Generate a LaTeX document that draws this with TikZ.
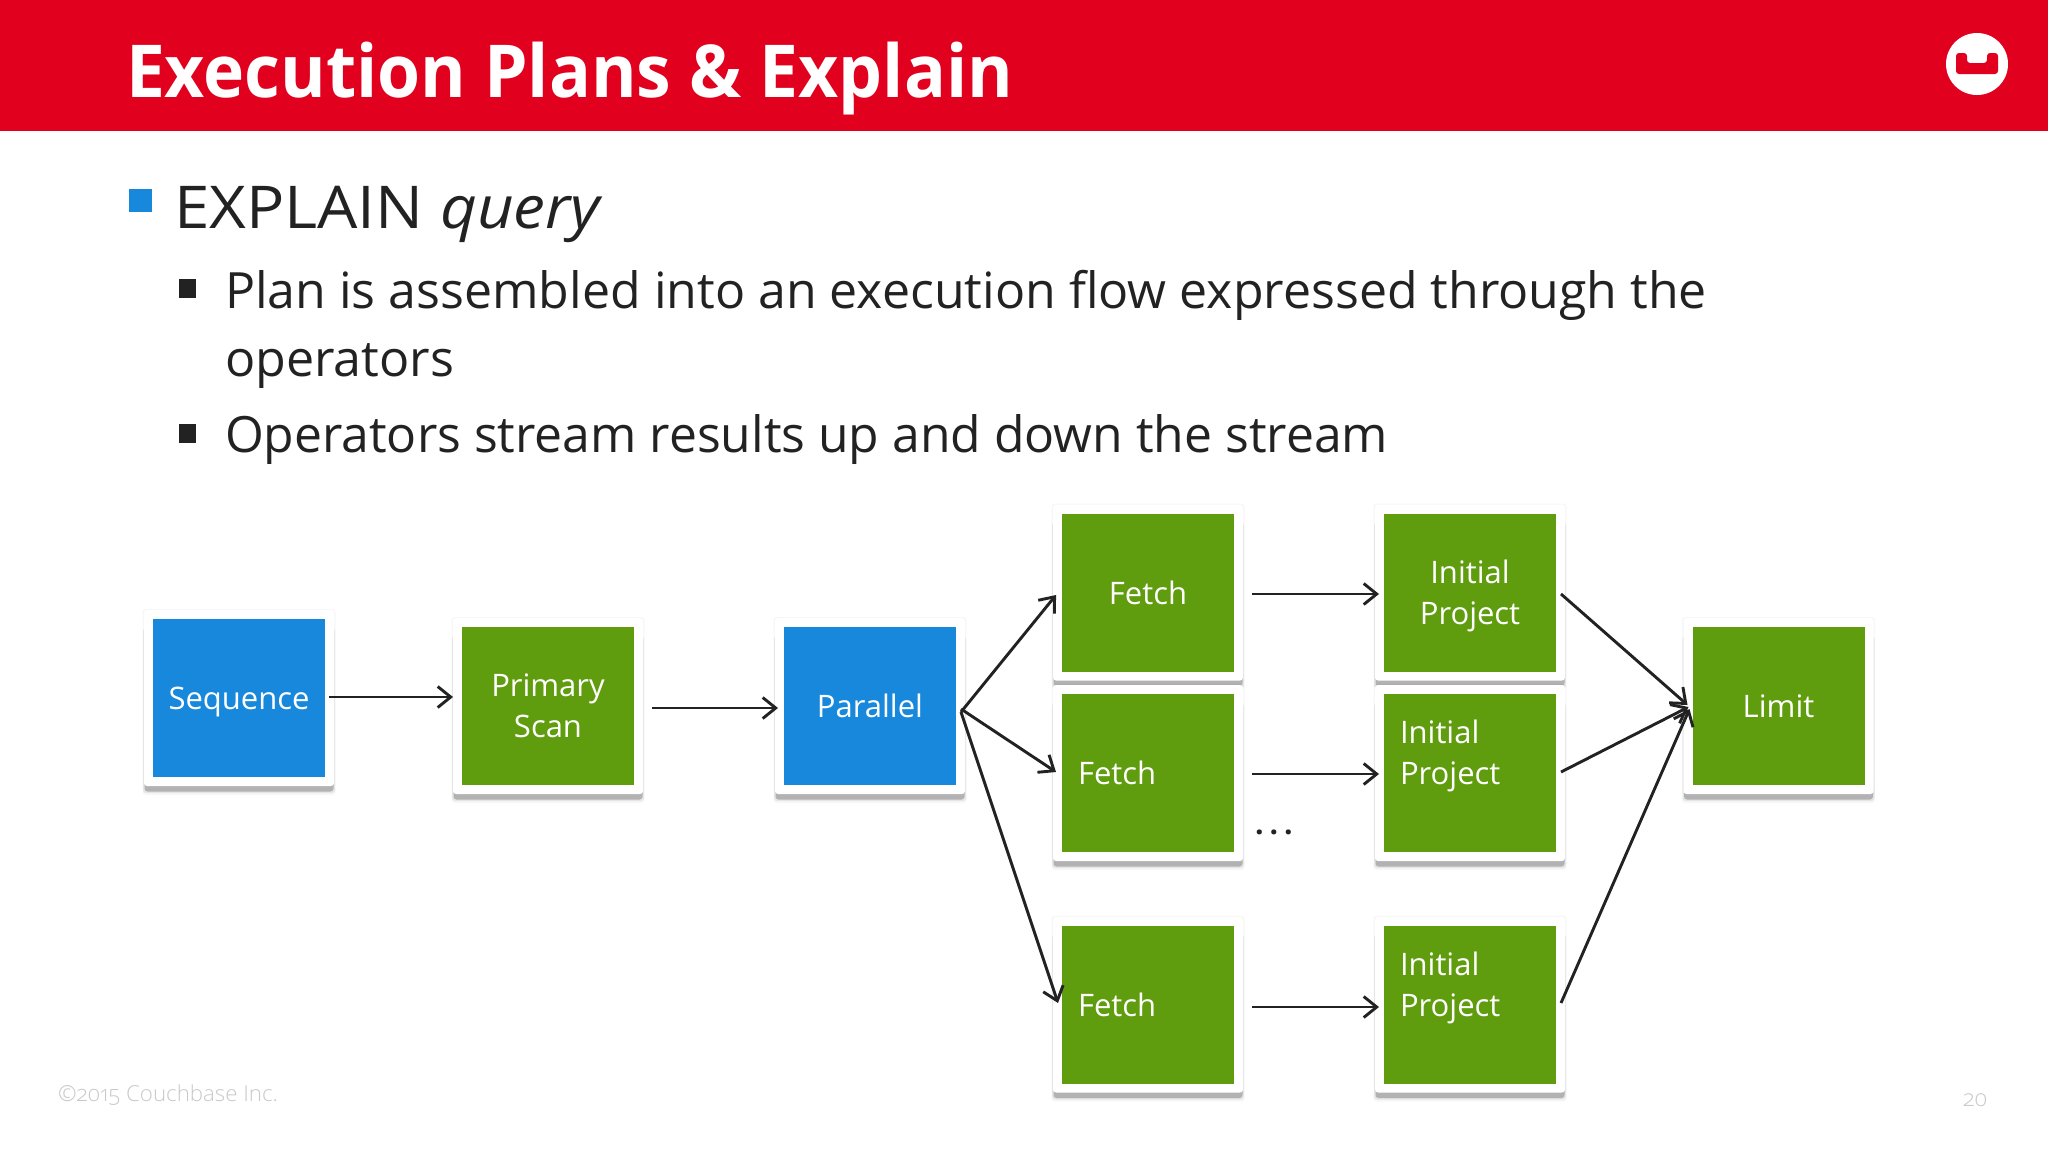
\documentclass[tikz,border=0pt]{standalone}
\usepackage{fontspec}
\usepackage{graphicx}
\usetikzlibrary{arrows.meta}
\setmainfont{Open Sans}
\newfontfamily\boxfont{Open Sans}
\newfontfamily\oldfont[Numbers=OldStyle]{Open Sans Light}
\definecolor{cbred}{HTML}{E2001F}
\definecolor{cbgreen}{HTML}{5F9C0E}
\definecolor{cbblue}{HTML}{1888DC}
\definecolor{cbink}{HTML}{222222}
\definecolor{cbfoot}{HTML}{C9C9CD}
\tikzset{
  x=1pt,y=-1pt,
  lineTxt/.style={anchor=base west,inner sep=0,outer sep=0,text=cbink},
  arr/.style={draw=cbink,line width=2.9pt,-{Straight Barb[length=13pt,width=21pt,line width=2.9pt]}},
  cardbox/.style={minimum width=172pt,minimum height=158pt,inner sep=0,outer sep=0,text=white,
     font=\boxfont\fontsize{31}{41}\selectfont},
  mid/.style={align=center},
  lefty/.style={text width=140pt,align=left},
  softshade/.style={fill=black,fill opacity=#1,rounded corners=3pt},
}
% \card{name}{cx}{cy}{colour}{options}{text}
\newcommand{\card}[6]{%
  \fill[softshade=0.03] (#2-96.5,#3-89) rectangle (#2+96.5,#3+97);
  \fill[softshade=0.07] (#2-96,#3-70) rectangle (#2+96,#3+95);
  \fill[softshade=0.22] (#2-94.5,#3+70) rectangle (#2+94.5,#3+93.5);
  \fill[white,rounded corners=3pt] (#2-95,#3-88) rectangle (#2+95,#3+88);
  \node[cardbox,fill=#4,#5] (#1) at (#2,#3) {#6};
}
\begin{document}
\begin{tikzpicture}
\useasboundingbox (0,0) rectangle (2048,1152);
\fill[white] (0,0) rectangle (2048,1152);
\fill[cbred] (0,0) rectangle (2048,131);
\node[lineTxt,text=white,font=\fontsize{73}{73}\selectfont\bfseries] (title) at (126,97)
  {\resizebox{887pt}{\height}{Execution Plans \& Explain}};
% logo
\fill[white] (1977,64) circle (31);
\fill[cbred,rounded corners=3pt] (1956,53) -- (1967,53) -- (1967,63) -- (1987,63) -- (1987,53) -- (1998,53) -- (1998,74) -- (1956,74) -- cycle;
% bullets
\fill[cbblue] (129,189) rectangle (152,212);
\fill[cbink] (179,279) rectangle (196,298);
\fill[cbink] (179,424) rectangle (196,443);
\node[lineTxt,font=\fontsize{59}{59}\selectfont] (l1) at (174,228)
  {\resizebox{429pt}{\height}{EXPLAIN \textit{query}}};
\node[lineTxt,font=\fontsize{50}{50}\selectfont] (l2) at (225,308)
  {\resizebox{1482pt}{\height}{Plan is assembled into an execution flow expressed through the}};
\node[lineTxt,font=\fontsize{50}{50}\selectfont] (l3) at (225,376)
  {\resizebox{229pt}{\height}{operators}};
\node[lineTxt,font=\fontsize{50}{50}\selectfont] (l4) at (225,452.5)
  {\resizebox{1163pt}{\height}{Operators stream results up and down the stream}};
% cards
\card{seq}{239}{698}{cbblue}{mid,text depth=0pt}{Sequence}
\card{prim}{548}{706}{cbgreen}{mid}{Primary\\Scan}
\card{par}{870}{706}{cbblue}{mid}{Parallel}
\card{fetchA}{1148}{592.5}{cbgreen}{mid}{Fetch}
\card{fetchB}{1148}{773}{cbgreen}{lefty}{Fetch}
\card{fetchC}{1148}{1004.5}{cbgreen}{lefty}{Fetch}
\card{initA}{1470}{592.5}{cbgreen}{mid,text depth=0pt}{Initial\\Project}
\card{initB}{1470}{773}{cbgreen}{lefty}{Initial\\Project\\~}
\card{initC}{1470}{1004.5}{cbgreen}{lefty}{Initial\\Project\\~}
\card{limit}{1778.5}{706}{cbgreen}{mid}{Limit}
% connectors
\draw[arr] ([shift={(4,-1)}]seq.east) -- ([shift={(-9,-9)}]prim.west);
\draw[arr] ([shift={(18,2)}]prim.east) -- ([shift={(-6,2)}]par.west);
\draw[arr] ([shift={(5,6)}]par.east) -- ([shift={(-6,2.5)}]fetchA.west);
\draw[arr] ([shift={(5,3)}]par.east) -- ([shift={(-6,-1)}]fetchB.west);
\draw[arr] ([shift={(5,6)}]par.east) -- ([shift={(-4,-1.5)}]fetchC.west);
\draw[arr] ([shift={(18,1.5)}]fetchA.east) -- ([shift={(-5,1.5)}]initA.west);
\draw[arr] ([shift={(18,1)}]fetchB.east) -- ([shift={(-5,1)}]initB.west);
\draw[arr] ([shift={(18,2.5)}]fetchC.east) -- ([shift={(-5,2.5)}]initC.west);
\draw[arr] ([shift={(5,1.5)}]initA.east) -- ([shift={(-5,-1)}]limit.west);
\draw[arr] ([shift={(5,-1)}]initB.east) -- ([shift={(-4,1)}]limit.west);
\draw[arr] ([shift={(5,-1.5)}]initC.east) -- ([shift={(-3,3)}]limit.west);
% dots
\node[lineTxt,font=\fontsize{30}{30}\selectfont\bfseries] (dots) at (1255,834) {.\kern6pt.\kern6pt.};
% footer
\node[lineTxt,text=cbfoot,font=\oldfont\fontsize{22}{22}\selectfont] (copy) at (58,1101)
  {\resizebox{220pt}{\height}{©2015 Couchbase Inc.}};
\node[lineTxt,text=cbfoot,font=\oldfont\fontsize{23}{23}\selectfont] (page) at (1963,1106) {20};
\end{tikzpicture}
\end{document}
